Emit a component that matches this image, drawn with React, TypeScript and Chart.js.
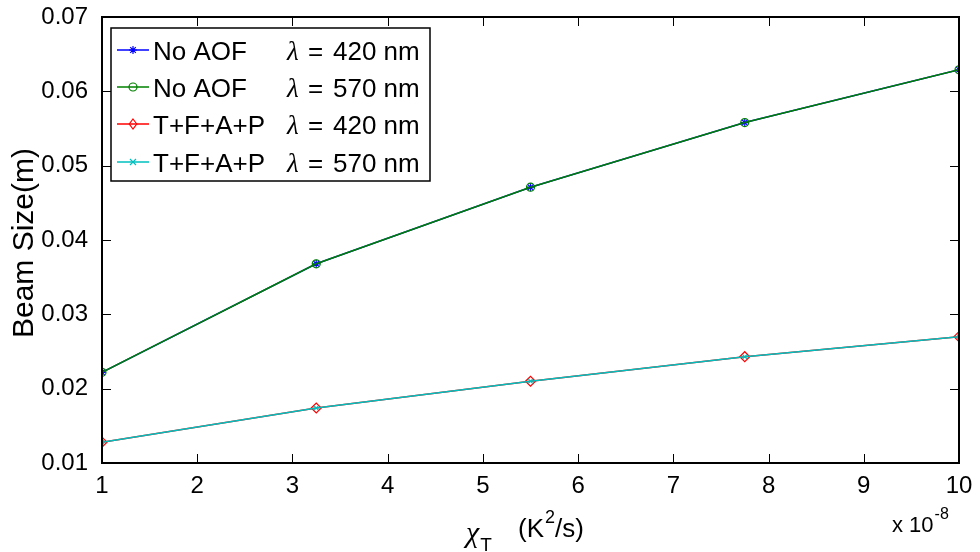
import React, { useEffect, useRef } from "react";
import { Chart, registerables } from "chart.js";

Chart.register(...registerables);

const xValues = [1, 3.25, 5.5, 7.75, 10];
const noAof420 = [0.0222, 0.0368, 0.0471, 0.0558, 0.0629];
const noAof570 = [0.0222, 0.0368, 0.0471, 0.0558, 0.0629];
const tfap420 = [0.0128, 0.0174, 0.021, 0.0243, 0.027];
const tfap570 = [0.0128, 0.0174, 0.021, 0.0243, 0.027];

const seriesNames = ["No AOF", "No AOF", "T+F+A+P", "T+F+A+P"];
const seriesLambda = ["420 nm", "570 nm", "420 nm", "570 nm"];
const seriesColors = ["#0000FF", "#008000", "#FF0000", "#00BFBF"];
const seriesStyles = ["star", "circle", "rectRot", "crossRot"];
const seriesRadius = [4, 4, 5, 3];

const yTitle = "Beam Size(m)";
const xMultiplier = ["x 10", "-8"];

const SANS = "Arial, 'Liberation Sans', sans-serif";
const SERIF = "'Liberation Serif', 'DejaVu Serif', serif";

function drawMarker(ctx: CanvasRenderingContext2D, style: string, x: number, y: number, r: number, color: string) {
  ctx.save();
  ctx.strokeStyle = color;
  ctx.lineWidth = 1.2;
  ctx.beginPath();
  if (style === "circle") {
    ctx.arc(x, y, r, 0, Math.PI * 2);
  } else if (style === "rectRot") {
    ctx.moveTo(x, y - r);
    ctx.lineTo(x + r * 0.75, y);
    ctx.lineTo(x, y + r);
    ctx.lineTo(x - r * 0.75, y);
    ctx.closePath();
  } else if (style === "crossRot") {
    ctx.moveTo(x - r, y - r);
    ctx.lineTo(x + r, y + r);
    ctx.moveTo(x - r, y + r);
    ctx.lineTo(x + r, y - r);
  } else {
    ctx.moveTo(x - r, y);
    ctx.lineTo(x + r, y);
    ctx.moveTo(x, y - r);
    ctx.lineTo(x, y + r);
    const d = r * 0.7;
    ctx.moveTo(x - d, y - d);
    ctx.lineTo(x + d, y + d);
    ctx.moveTo(x - d, y + d);
    ctx.lineTo(x + d, y - d);
  }
  ctx.stroke();
  ctx.restore();
}

const framePlugin = {
  id: "matlabFrame",
  afterDraw(chart: any) {
    const ctx: CanvasRenderingContext2D = chart.ctx;
    const { left, right, top, bottom } = chart.chartArea;
    const xs = chart.scales.x;
    const ys = chart.scales.y;
    ctx.save();
    ctx.strokeStyle = "#000";
    ctx.lineWidth = 2;
    ctx.strokeRect(left, top, right - left, bottom - top);
    const tl = 9;
    ctx.lineWidth = 1;
    ctx.beginPath();
    xs.ticks.forEach((t: any) => {
      const px = Math.round(xs.getPixelForValue(t.value)) + 0.5;
      ctx.moveTo(px, bottom);
      ctx.lineTo(px, bottom - tl);
      ctx.moveTo(px, top);
      ctx.lineTo(px, top + tl);
    });
    ys.ticks.forEach((t: any) => {
      const py = Math.round(ys.getPixelForValue(t.value)) + 0.5;
      ctx.moveTo(left, py);
      ctx.lineTo(left + tl, py);
      ctx.moveTo(right, py);
      ctx.lineTo(right - tl, py);
    });
    ctx.stroke();

    const lx = 111, ly = 28, lw = 319, lh = 153;
    ctx.fillStyle = "#fff";
    ctx.fillRect(lx, ly, lw, lh);
    ctx.lineWidth = 1.5;
    ctx.strokeStyle = "#000";
    ctx.strokeRect(lx, ly, lw, lh);
    const rows = [50, 87, 124, 162];
    rows.forEach((ry, i) => {
      ctx.strokeStyle = seriesColors[i];
      ctx.lineWidth = 1.5;
      ctx.beginPath();
      ctx.moveTo(117, ry);
      ctx.lineTo(149, ry);
      ctx.stroke();
      drawMarker(ctx, seriesStyles[i], 133, ry, seriesRadius[i], seriesColors[i]);
      ctx.fillStyle = "#000";
      ctx.textBaseline = "alphabetic";
      ctx.textAlign = "left";
      const base = ry + 10;
      ctx.font = `26px ${SANS}`;
      ctx.fillText(seriesNames[i], 153, base);
      ctx.font = `italic 27px ${SERIF}`;
      ctx.fillText("λ", 287, base);
      ctx.font = `26px ${SANS}`;
      ctx.fillText("=", 308, base);
      ctx.fillText(seriesLambda[i], 333, base);
    });

    ctx.fillStyle = "#000";
    ctx.textBaseline = "alphabetic";
    ctx.textAlign = "left";
    let cx = 466;
    ctx.font = `italic 30px ${SERIF}`;
    ctx.fillText("χ", cx, 542);
    cx += ctx.measureText("χ").width + 1;
    ctx.font = `19px ${SANS}`;
    ctx.fillText("T", cx, 551);
    cx = 518;
    ctx.font = `26px ${SANS}`;
    ctx.fillText("(K", cx, 537);
    cx += ctx.measureText("(K").width + 1;
    ctx.font = `18px ${SANS}`;
    ctx.fillText("2", cx, 523);
    cx += ctx.measureText("2").width;
    ctx.font = `26px ${SANS}`;
    ctx.fillText("/s)", cx, 537);

    ctx.font = `22px ${SANS}`;
    ctx.fillText(xMultiplier[0], 892, 532);
    const mw = ctx.measureText(xMultiplier[0]).width;
    ctx.font = `16px ${SANS}`;
    ctx.fillText(xMultiplier[1], 892 + mw + 1, 519);

    ctx.save();
    ctx.translate(33, 243);
    ctx.rotate(-Math.PI / 2);
    ctx.font = `30px ${SANS}`;
    ctx.textAlign = "center";
    ctx.fillText(yTitle, 0, 0);
    ctx.restore();

    ctx.restore();
  },
};

export default function App() {
  const ref = useRef<HTMLCanvasElement | null>(null);
  useEffect(() => {
    if (!ref.current) return;
    const mk = (i: number, values: number[], order: number) => ({
      label: seriesNames[i] + " " + seriesLambda[i],
      data: xValues.map((x, k) => ({ x, y: values[k] })),
      borderColor: seriesColors[i],
      backgroundColor: "rgba(0,0,0,0)",
      borderWidth: 1.5,
      pointStyle: seriesStyles[i] as any,
      pointRadius: seriesRadius[i],
      pointBorderWidth: 1.2,
      pointBorderColor: seriesColors[i],
      pointBackgroundColor: "rgba(0,0,0,0)",
      tension: 0,
      order,
    });
    const chart = new Chart(ref.current, {
      type: "line",
      data: {
        datasets: [
          mk(0, noAof420, 4),
          mk(1, noAof570, 3),
          mk(2, tfap420, 2),
          mk(3, tfap570, 1),
        ],
      },
      options: {
        animation: false,
        responsive: false,
        layout: { padding: { left: 0, top: 17, right: 21, bottom: 0 } },
        plugins: { legend: { display: false }, tooltip: { enabled: false } },
        scales: {
          x: {
            type: "linear",
            min: 1,
            max: 10,
            ticks: {
              stepSize: 1,
              color: "#000",
              font: { family: SANS, size: 24 },
              padding: 1,
              maxRotation: 0,
            },
            grid: { display: false },
            border: { display: false },
            afterFit: (s: any) => {
              s.height = 89;
              s.paddingLeft = 0;
              s.paddingRight = 0;
            },
          },
          y: {
            type: "linear",
            min: 0.01,
            max: 0.07,
            ticks: {
              stepSize: 0.01,
              color: "#000",
              font: { family: SANS, size: 24 },
              padding: 6,
              callback: (v: any) => Number(v).toFixed(2),
            },
            grid: { display: false },
            border: { display: false },
            afterFit: (s: any) => {
              s.width = 102;
              s.paddingTop = 0;
              s.paddingBottom = 0;
            },
          },
        },
      },
      plugins: [framePlugin],
    });
    return () => chart.destroy();
  }, []);
  return (
    <div style={{ position: "absolute", left: 0, top: 0, width: 980, height: 552, background: "#fff" }}>
      <canvas ref={ref} width={980} height={552} />
    </div>
  );
}
